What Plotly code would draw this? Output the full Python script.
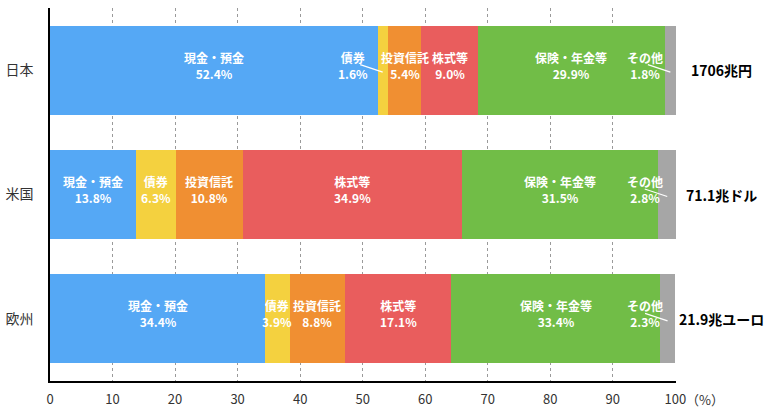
import plotly.graph_objects as go

# Household financial assets composition (%)
countries = ["日本", "米国", "欧州"]
totals = ["1706兆円", "71.1兆ドル", "21.9兆ユーロ"]
assets = ["現金・預金", "債券", "投資信託", "株式等", "保険・年金等", "その他"]
shares = {
    "日本": [52.4, 1.6, 5.4, 9.0, 29.9, 1.8],
    "米国": [13.8, 6.3, 10.8, 34.9, 31.5, 2.8],
    "欧州": [34.4, 3.9, 8.8, 17.1, 33.4, 2.3],
}
x_ticks = [0, 10, 20, 30, 40, 50, 60, 70, 80, 90, 100]

colors = ["#55A8F5", "#F4D13F", "#F08F32", "#E95D5D", "#71BD47", "#A6A6A6"]
FONT = "Noto Sans CJK JP"

# labels moved off their segment (x in axis units) with a leader line
moved = {("日本", "債券"): 48.5, ("日本", "その他"): 95.2,
         ("米国", "その他"): 95.2, ("欧州", "その他"): 95.2}

fig = go.Figure()
for i, name in enumerate(assets):
    fig.add_trace(go.Bar(
        y=countries,
        x=[shares[c][i] for c in countries],
        orientation="h",
        name=name,
        marker=dict(color=colors[i], line=dict(width=0)),
        hoverinfo="skip",
    ))

annotations = []
for c in countries:
    left = 0.0
    for name, v in zip(assets, shares[c]):
        mid = left + v / 2
        left += v
        tx = moved.get((c, name), mid)
        annotations.append(dict(
            x=tx, y=c, xref="x", yref="y", text=f"<b>{name}<br>{v:.1f}%</b>",
            showarrow=False, yshift=5,
            font=dict(family=FONT, size=12, color="white"),
        ))
        if (c, name) in moved:
            annotations.append(dict(
                x=mid, y=c, xref="x", yref="y", text="", showarrow=True,
                arrowhead=0, arrowwidth=1.2, arrowcolor="white",
                ax=-24, ay=-8, standoff=0, startstandoff=0, yshift=-2,
            ))

for c, t in zip(countries, totals):
    annotations.append(dict(
        x=1, y=c, xref="paper", yref="y", xanchor="center", xshift=45,
        text=f"<b>{t}</b>", showarrow=False,
        font=dict(family=FONT, size=14, color="black"),
    ))

annotations.append(dict(
    x=100, y=0, xref="x", yref="paper", xanchor="left", yanchor="top",
    xshift=9, yshift=-7, text="（%）", showarrow=False,
    font=dict(family=FONT, size=13, color="#333"),
))

fig.update_layout(
    barmode="stack",
    bargap=0.285,
    width=768, height=412,
    margin=dict(l=50, r=92, t=8, b=31, autoexpand=False),
    paper_bgcolor="white",
    plot_bgcolor="white",
    showlegend=False,
    font=dict(family=FONT, color="#222"),
    annotations=annotations,
    xaxis=dict(
        range=[0, 100.1], tickvals=x_ticks, showgrid=True,
        gridcolor="#9a9a9a", griddash="dot", gridwidth=1,
        showline=True, linecolor="black", linewidth=1.5,
        zeroline=False, tickfont=dict(size=13, color="#333"),
        ticks="", ticklabelstandoff=6, automargin=False,
    ),
    yaxis=dict(
        categoryorder="array", categoryarray=countries, autorange="reversed",
        showgrid=False, showline=True, linecolor="black", linewidth=1.5,
        ticks="", ticklabelstandoff=12, tickfont=dict(size=14, color="#333"),
        automargin=False,
    ),
)

fig.write_html("out.html", config={"displayModeBar": False},
               post_script="document.body.style.margin='0';")
